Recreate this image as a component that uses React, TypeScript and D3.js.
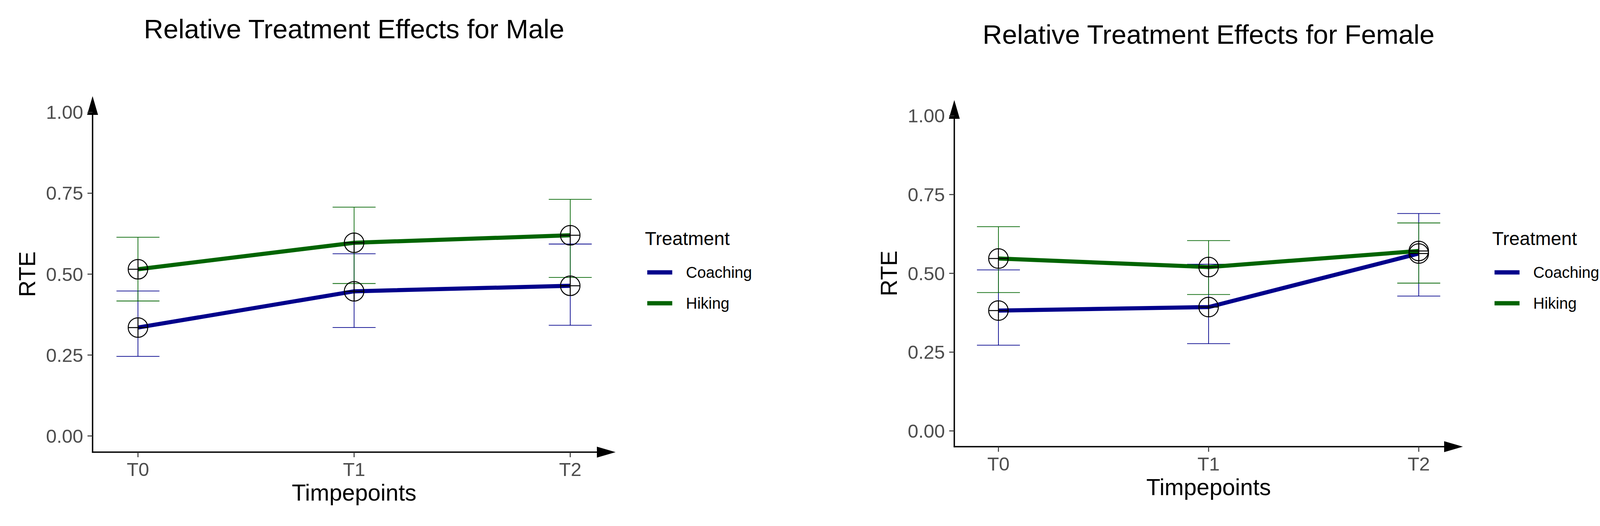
import * as d3 from "d3";

const timepoints = ["T0", "T1", "T2"];
const treatments = ["Coaching", "Hiking"];
const yTicks = [0, 0.25, 0.5, 0.75, 1];

// Male panel
const maleCoachingMean = [0.335, 0.447, 0.464];
const maleCoachingLower = [0.246, 0.335, 0.342];
const maleCoachingUpper = [0.448, 0.563, 0.593];
const maleHikingMean = [0.515, 0.597, 0.62];
const maleHikingLower = [0.417, 0.471, 0.49];
const maleHikingUpper = [0.614, 0.707, 0.731];

// Female panel
const femaleCoachingMean = [0.382, 0.393, 0.563];
const femaleCoachingLower = [0.272, 0.277, 0.428];
const femaleCoachingUpper = [0.511, 0.529, 0.69];
const femaleHikingMean = [0.547, 0.52, 0.571];
const femaleHikingLower = [0.439, 0.433, 0.469];
const femaleHikingUpper = [0.648, 0.604, 0.66];

const COLORS: Record<string, string> = { Coaching: "#00008B", Hiking: "#006400" };
const FONT = "Liberation Sans, Arial, sans-serif";

type Series = { name: string; mean: number[]; lower: number[]; upper: number[] };

type PanelProps = {
  title: string;
  series: Series[];
  left: number;
  right: number;
  top: number;
  bottom: number;
  titleY: number;
};

const Panel = ({ title, series, left, right, top, bottom, titleY }: PanelProps) => {
  const x = d3.scalePoint<string>().domain(timepoints).range([left, right]).padding(0.21);
  const y = d3.scaleLinear().domain([-0.05, 1.05]).range([bottom, top]);

  const line = d3
    .line<number>()
    .x((_, i) => x(timepoints[i]) as number)
    .y((d) => y(d));

  const capHalf = 55;
  const r = 25;
  const arrowLen = 48;
  const arrowHalf = 14;

  return (
    <g>
      <text x={x("T1")} y={titleY} textAnchor="middle" fontSize={69} fontFamily={FONT} fill="#000">
        {title}
      </text>

      {/* axes with arrow heads */}
      <line x1={left} x2={left} y1={bottom + 1.5} y2={top + arrowLen - 4} stroke="#000" strokeWidth={3.5} />
      <line x1={left - 1.5} x2={right - arrowLen + 4} y1={bottom} y2={bottom} stroke="#000" strokeWidth={3.5} />
      <polygon
        points={`${left},${top} ${left - arrowHalf},${top + arrowLen} ${left + arrowHalf},${top + arrowLen}`}
        fill="#000"
      />
      <polygon
        points={`${right},${bottom} ${right - arrowLen},${bottom - arrowHalf} ${right - arrowLen},${bottom + arrowHalf}`}
        fill="#000"
      />

      {yTicks.map((t) => (
        <g key={t}>
          <line x1={left - 13} x2={left} y1={y(t)} y2={y(t)} stroke="#333" strokeWidth={2.5} />
          <text
            x={left - 24}
            y={y(t)}
            textAnchor="end"
            dominantBaseline="central"
            fontSize={49}
            fontFamily={FONT}
            fill="#4D4D4D"
          >
            {t.toFixed(2)}
          </text>
        </g>
      ))}
      {timepoints.map((t) => (
        <g key={t}>
          <line x1={x(t)} x2={x(t)} y1={bottom} y2={bottom + 13} stroke="#333" strokeWidth={2.5} />
          <text x={x(t)} y={bottom + 61} textAnchor="middle" fontSize={49} fontFamily={FONT} fill="#4D4D4D">
            {t}
          </text>
        </g>
      ))}

      <text x={x("T1")} y={bottom + 124} textAnchor="middle" fontSize={59} fontFamily={FONT} fill="#000">
        Timpepoints
      </text>
      <text
        transform={`translate(${left - 147},${y(0.5)}) rotate(-90)`}
        textAnchor="middle"
        fontSize={59}
        fontFamily={FONT}
        fill="#000"
      >
        RTE
      </text>

      {/* error bars */}
      {series.map((s) =>
        timepoints.map((t, i) => (
          <g key={s.name + t} stroke={COLORS[s.name]} strokeWidth={1.8}>
            <line x1={x(t)} x2={x(t)} y1={y(s.lower[i])} y2={y(s.upper[i])} />
            <line x1={(x(t) as number) - capHalf} x2={(x(t) as number) + capHalf} y1={y(s.lower[i])} y2={y(s.lower[i])} />
            <line x1={(x(t) as number) - capHalf} x2={(x(t) as number) + capHalf} y1={y(s.upper[i])} y2={y(s.upper[i])} />
          </g>
        ))
      )}

      {/* lines */}
      {series.map((s) => (
        <path key={s.name} d={line(s.mean) ?? ""} fill="none" stroke={COLORS[s.name]} strokeWidth={10.5} />
      ))}

      {/* circle-plus points */}
      {series.map((s) =>
        s.mean.map((v, i) => {
          const cx = x(timepoints[i]) as number;
          const cy = y(v);
          return (
            <g key={s.name + i} stroke="#000" strokeWidth={2.5} fill="none">
              <circle cx={cx} cy={cy} r={r} />
              <line x1={cx - r} x2={cx + r} y1={cy} y2={cy} />
              <line x1={cx} x2={cx} y1={cy - r} y2={cy + r} />
            </g>
          );
        })
      )}

      {/* legend */}
      <text x={right + 75} y={627} fontSize={48} fontFamily={FONT} fill="#000">
        Treatment
      </text>
      {treatments.map((name, i) => (
        <g key={name}>
          <line
            x1={right + 81}
            x2={right + 145}
            y1={697 + i * 79}
            y2={697 + i * 79}
            stroke={COLORS[name]}
            strokeWidth={11}
          />
          <text
            x={right + 180}
            y={697 + i * 79}
            dominantBaseline="central"
            fontSize={40}
            fontFamily={FONT}
            fill="#000"
          >
            {name}
          </text>
        </g>
      ))}
    </g>
  );
};

export default function App() {
  const male: Series[] = [
    { name: "Coaching", mean: maleCoachingMean, lower: maleCoachingLower, upper: maleCoachingUpper },
    { name: "Hiking", mean: maleHikingMean, lower: maleHikingLower, upper: maleHikingUpper },
  ];
  const female: Series[] = [
    { name: "Coaching", mean: femaleCoachingMean, lower: femaleCoachingLower, upper: femaleCoachingUpper },
    { name: "Hiking", mean: femaleHikingMean, lower: femaleHikingLower, upper: femaleHikingUpper },
  ];

  return (
    <div style={{ position: "absolute", left: 0, top: 0 }}>
      <svg width={4107} height={1346} style={{ display: "block", background: "#fff" }}>
        <Panel
          title="Relative Treatment Effects for Male"
          series={male}
          left={237}
          right={1576}
          top={246}
          bottom={1157}
          titleY={98}
        />
        <Panel
          title="Relative Treatment Effects for Female"
          series={female}
          left={2443}
          right={3745}
          top={256}
          bottom={1143}
          titleY={112}
        />
      </svg>
    </div>
  );
}
